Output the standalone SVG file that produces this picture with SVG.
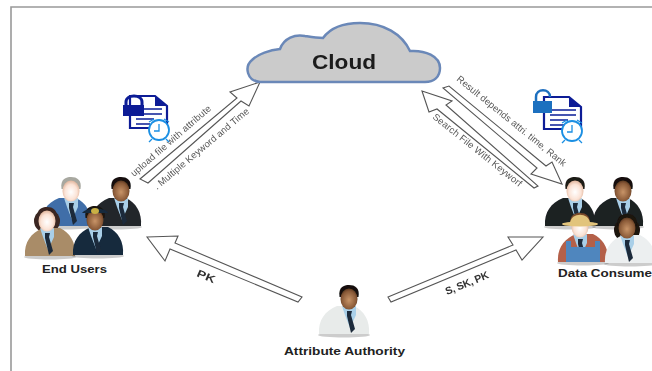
<svg xmlns="http://www.w3.org/2000/svg" width="652" height="371" viewBox="0 0 652 371">
<style>
text{font-family:"Liberation Sans",Arial,sans-serif}
.arrow{fill:#fff;stroke:#555;stroke-width:1.1;stroke-linejoin:miter}
.lab{font-size:9.5px;fill:#555}
.edge{font-size:10.500px;font-weight:bold;fill:#333}
.name{font-size:10.500px;font-weight:bold;fill:#222}
.frame{fill:none;stroke:#999;stroke-width:1.6}
.body{fill:var(--suit)}
.hair{fill:var(--hair)}
.head{fill:var(--skin,url(#skinDark))}
.shirt{fill:#a9cfe8}
.tie{fill:#1c2a3a}
.shadow{fill:#000;opacity:.2}
.doc{fill:#fff;stroke:#0b1d96;stroke-width:2.2}
.docline{stroke:#0b1d96;stroke-width:1.6;fill:none}
.clock{fill:#fff;stroke:#1a8fe3;stroke-width:1.8}
.clockh{fill:none;stroke:#1a8fe3;stroke-width:1.3}
.pale{--skin:url(#skinLight)}
</style>
<defs>
<radialGradient id="skinDark" cx=".5" cy=".55" r=".6"><stop offset="0" stop-color="#c89468"/><stop offset=".7" stop-color="#8a5a38"/><stop offset="1" stop-color="#4a2c18"/></radialGradient>
<radialGradient id="skinLight" cx=".5" cy=".55" r=".6"><stop offset="0" stop-color="#fff"/><stop offset=".6" stop-color="#fbe3d6"/><stop offset="1" stop-color="#d9a88c"/></radialGradient>
<filter id="soft" x="-10%" y="-10%" width="120%" height="120%"><feGaussianBlur stdDeviation=".5"/></filter>
<filter id="softer" x="-5%" y="-5%" width="110%" height="110%"><feGaussianBlur stdDeviation=".3"/></filter>
<g id="torso">
<ellipse class="shadow" cx="0" cy="37" rx="26" ry="2.500"/>
<path class="body" d="M-25 36C-26 22-19 13-7 8L10 8C20 13 26 22 25 36Z"/>
</g>
<g id="top">
<path class="shirt" d="M-7 8L0 11L7 8L7 17L1 30L-4 17Z"/>
<path class="tie" d="M-2 13L3 13L2 17L6 31L2 35L-2 18Z"/>
<path class="hair" d="M-9.500 -1C-11 -11 -5 -13 0 -13C6 -13 11 -10 9.500 -1Z"/>
<ellipse class="head" cx="0" cy="1" rx="8.500" ry="10.500"/>
</g>
<g id="bustMan"><use href="#torso"/><use href="#top" x="5"/></g>
<g id="bustWoman"><use href="#torso"/><use href="#top" x="-3"/></g>
<g id="docIcon">
<path class="doc" d="M0 0H25L37 10V32H0Z"/>
<path d="M25 0L37 10H25Z" fill="#0b1d96"/>
<path class="docline" d="M6 13H32M6 18H32M6 23H24M6 28H20"/>
</g>
<g id="clockIcon">
<path class="clockh" d="M-10 -8L-5 -11M10 -8L5 -11M-7 9L-10 12M7 9L10 12"/>
<circle class="clock" r="10"/>
<path class="clockh" d="M0 -6V1H-5"/>
</g>
</defs>
<g id="frame"><path class="frame" d="M11 371V7H652"/></g>
<g id="connectors" filter="url(#softer)">
<polygon class="arrow" points="260,82 249,106 241,101 148,183 140,179 237,98 230,92"/>
<polygon class="arrow" points="562,184 552,162 546,166 449,86 443,88 537,168 531,174"/>
<polygon class="arrow" points="422,91 452,101 446,105 538,186 534,188 437,109 429,112"/>
<polygon class="arrow" points="147,237 178,236 175,243 302,297 298,302 170,249 165,261"/>
<polygon class="arrow" points="543,237 508,237 513,245 388,297 391,302 516,250 522,260"/>
<text class="lab" transform="translate(134 177) rotate(-41)" textLength="103">upload file with attribute</text>
<text class="lab" transform="translate(157 190) rotate(-40)" textLength="121">. Multiple Keyword and Time</text>
<text class="lab" transform="translate(456 80) rotate(39)" textLength="138">Result depends attri. time, Rank</text>
<text class="lab" transform="translate(432 118) rotate(38.500)" textLength="111">Search File With Keyworf</text>
<text class="edge" transform="translate(196 276) rotate(23)" textLength="19" lengthAdjust="spacingAndGlyphs">PK</text>
<text class="edge" transform="translate(447 295) rotate(-22)" textLength="46">S, SK, PK</text>
</g>
<g id="cloud" filter="url(#softer)">
<path d="M260 82C247 81 244 67 252 60C258 54 270 50 280 49C284 38 295 34 305 36C311 37 316 38 323 38C331 27 345 23 360 23C384 23 402 34 410 51C425 50 440 56 440 68C440 77 434 82 425 82Z" fill="#cbcbcb" stroke="#6b88b8" stroke-width="2.500"/>
<text x="312" y="69" font-size="20" font-weight="bold" fill="#1a1a1a" textLength="64" lengthAdjust="spacingAndGlyphs">Cloud</text>
</g>
<g id="upload-icon" filter="url(#soft)">
<use href="#docIcon" transform="translate(130 96)"/>
<path d="M126 105V102C126 94 142 94 142 102V105" fill="none" stroke="#0b1d96" stroke-width="3"/>
<rect x="123" y="105" width="21" height="11" fill="#0b1d96"/>
<use href="#clockIcon" transform="translate(159 130)"/>
</g>
<g id="search-icon" filter="url(#soft)">
<use href="#docIcon" transform="translate(544 97)"/>
<path d="M536 101V97C536 88 550 88 550 97" fill="none" stroke="#1f6fbf" stroke-width="2.500"/>
<rect x="533" y="101" width="19" height="12" fill="#1f6fbf"/>
<use href="#clockIcon" transform="translate(572 131)"/>
</g>
<g id="end-users">
<g filter="url(#soft)">
<g class="pale" style="--suit:#3f6ea8;--hair:#a8a8a0"><use href="#bustMan" transform="translate(66 190)"/></g>
<g style="--suit:#23272c;--hair:#15110e"><use href="#bustMan" transform="translate(116 190)"/></g>
<ellipse cx="47" cy="221" rx="13" ry="12" fill="#3a2620"/>
<g class="pale" style="--suit:#a98c68;--hair:#3a2620"><use href="#bustWoman" transform="translate(50 220)"/></g>
<g style="--suit:#16293d;--hair:#1a120c"><use href="#bustWoman" transform="translate(98 219)"/><path d="M82 213C86 207 106 207 108 213Z" fill="#16293d"/><ellipse cx="95" cy="211" rx="4" ry="3" fill="#c9b045"/></g>
</g>
<text class="name" x="42" y="273" textLength="65" lengthAdjust="spacingAndGlyphs">End Users</text>
</g>
<g id="data-consumers">
<g filter="url(#soft)">
<g class="pale" style="--suit:#1d2024;--hair:#1e1a16"><use href="#bustMan" transform="translate(570 190)"/></g>
<g style="--suit:#1d2024;--hair:#15110e"><use href="#bustMan" transform="translate(618 190)"/></g>
<g class="pale" style="--suit:#b4604a;--hair:#7a4a2a"><use href="#bustWoman" transform="translate(583 226)"/><path d="M566 262V241H571V247H595V241H600V262Z" fill="#4f86be"/><ellipse cx="580" cy="224" rx="18" ry="2.500" fill="#e2c47c"/><path d="M570 223C571 212 589 212 590 223Z" fill="#e2c47c"/></g>
<ellipse cx="627" cy="230" rx="13" ry="12" fill="#1a120c"/>
<g style="--suit:#eceff0;--hair:#1a120c"><use href="#bustWoman" transform="translate(630 227)"/></g>
</g>
<text class="name" x="558" y="277" textLength="94" lengthAdjust="spacingAndGlyphs">Data Consume</text>
</g>
<g id="attribute-authority">
<g filter="url(#soft)" style="--suit:#e8ebea;--hair:#15110e"><use href="#bustMan" transform="translate(344 298)"/></g>
<text class="name" x="284" y="355" textLength="121" lengthAdjust="spacingAndGlyphs">Attribute Authority</text>
</g>
</svg>
